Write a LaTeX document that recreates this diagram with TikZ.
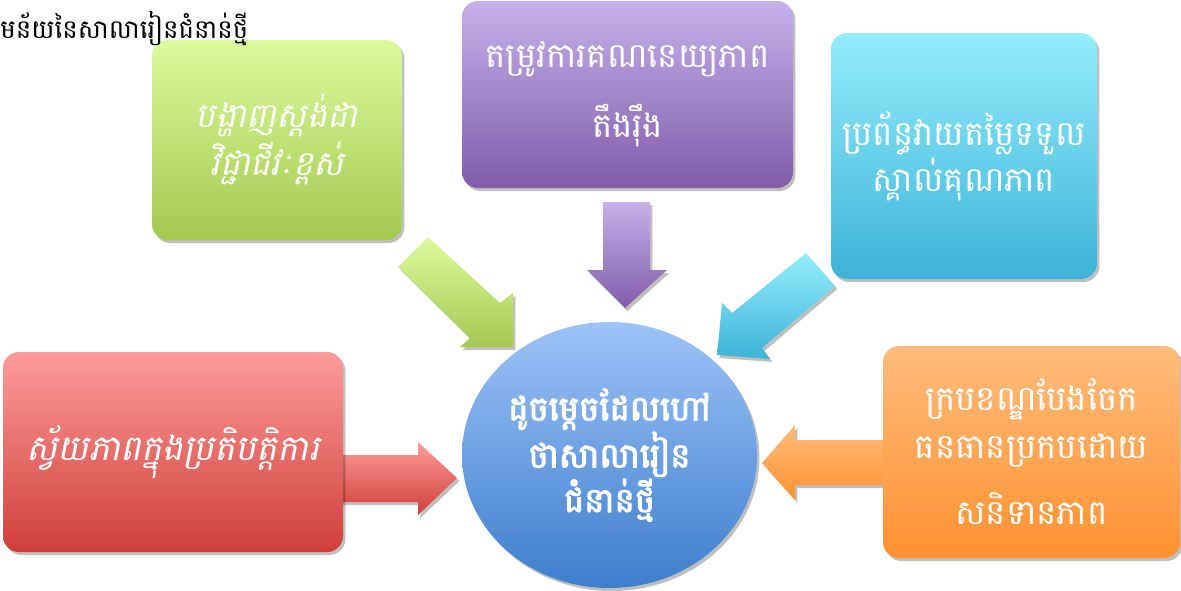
\documentclass[tikz,border=0pt]{standalone}
\usepackage{fontspec}
\usetikzlibrary{shadows,shapes.geometric}
\newfontfamily\khm[Script=Khmer]{Battambang}
\newfontfamily\khmit[Script=Khmer,FakeSlant=0.2]{Battambang}
\newfontfamily\khmbf[Script=Khmer,FakeBold=3]{Battambang}
\definecolor{gTop}{HTML}{DBFB9C}
\definecolor{gBot}{HTML}{A3C950}
\definecolor{pTop}{HTML}{C6B0EA}
\definecolor{pBot}{HTML}{7F5DA9}
\definecolor{cTop}{HTML}{94EDFC}
\definecolor{cBot}{HTML}{3CB3D7}
\definecolor{rTop}{HTML}{FD9C9A}
\definecolor{rBot}{HTML}{CF3F3A}
\definecolor{oTop}{HTML}{FFBC7C}
\definecolor{oBot}{HTML}{FF9130}
\definecolor{bTop}{HTML}{9DC3F8}
\definecolor{bBot}{HTML}{3D7ECC}
\tikzset{
  shad/.style={drop shadow={shadow xshift=1.2pt,shadow yshift=-1.5pt,opacity=0.25,fill=black}},
  box/.style={rectangle,rounded corners=8pt,shad,inner sep=0pt,align=center,text=white},
  blockarrow/.style={shad},
}
\begin{document}
\begin{tikzpicture}[x=0.5pt,y=-0.5pt]
\useasboundingbox (0,0) rectangle (1181,590);
% block arrows (drawn first, under boxes)
\shade[blockarrow,top color=gTop,bottom color=gBot] (428,237) -- (500,303) -- (513,293) -- (513,347) -- (460,347) -- (470,338) -- (398,267) -- cycle;
\shade[blockarrow,top color=pTop,bottom color=pBot] (603,202) -- (650,202) -- (650,270) -- (667,270) -- (625,308) -- (587,270) -- (603,270) -- cycle;
\shade[blockarrow,top color=cTop,bottom color=cBot] (806,253) -- (732,313) -- (722,303) -- (717,355) -- (770,359) -- (762,348) -- (835,286) -- cycle;
\shade[blockarrow,top color=rTop,bottom color=rBot] (340,455) -- (418,455) -- (418,442) -- (457,478) -- (418,515) -- (418,502) -- (340,502) -- cycle;
\shade[blockarrow,top color=oTop,bottom color=oBot] (886,440) -- (795,440) -- (795,425) -- (762,463) -- (795,500) -- (795,485) -- (886,485) -- cycle;
% boxes
\node[box,top color=gTop,bottom color=gBot,minimum width=125pt,minimum height=100pt,font=\fontsize{17}{24}\khmit] (green) at (277,140) {បង្ហាញស្តង់ដា\\វិជ្ជាជីវៈខ្ពស់};
\node[box,top color=pTop,bottom color=pBot,minimum width=165.5pt,minimum height=93.5pt,font=\fontsize{17}{24}\khm] (purple) at (627.5,94.5) {តម្រូវការគណនេយ្យភាព\\[11pt]តឹងរ៉ឹង};
\node[box,top color=cTop,bottom color=cBot,minimum width=133pt,minimum height=123pt,font=\fontsize{17}{23}\khm] (cyan) at (964,156) {ប្រព័ន្ធវាយតម្លៃទទួល\\ស្គាល់គុណភាព};
\node[box,top color=rTop,bottom color=rBot,minimum width=170pt,minimum height=100pt,font=\fontsize{17.6}{24}\khmit] (red) at (173,452) {ស្វ័យភាពក្នុងប្រតិបត្តិការ};
\node[box,top color=oTop,bottom color=oBot,minimum width=148.5pt,minimum height=106pt,font=\fontsize{17}{24}\khm] (orange) at (1031.5,452) {ក្របខណ្ឌបែងចែក\\ធនធានប្រកបដោយ\\[9pt]សនិទានភាព};
\node[ellipse,shad,top color=bTop,bottom color=bBot,minimum width=147.5pt,minimum height=133pt,inner sep=0pt,align=center,text=white,font=\fontsize{17}{19.5}\khmbf] (center) at (609.5,455) {ដូចម្តេចដែលហៅ\\ថាសាលារៀន\\ជំនាន់ថ្មី};
% title
\node[anchor=west,inner sep=0pt,font=\fontsize{13}{16}\khm] (title) at (0,28) {មន័យនៃសាលារៀនជំនាន់ថ្មី};
\end{tikzpicture}
\end{document}
